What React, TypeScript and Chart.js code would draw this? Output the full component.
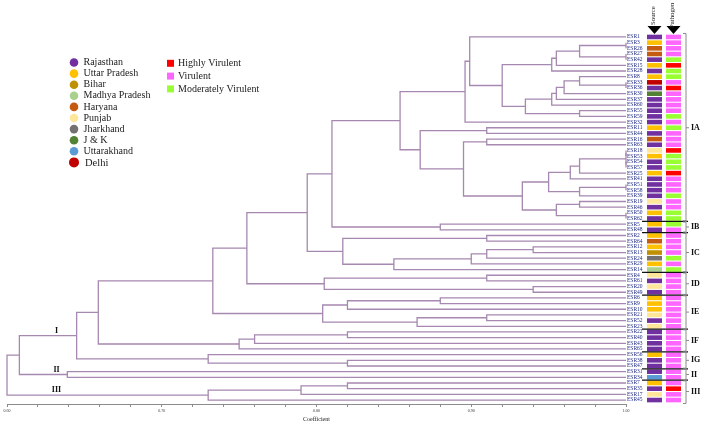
import React, { useEffect, useRef } from 'react';
import { Chart, registerables } from 'chart.js';

Chart.register(...registerables);

// ---------------- DATA ----------------
const leafLabels = [
  'ESR1', 'ESR3', 'ESR26', 'ESR27', 'ESR42', 'ESR15', 'ESR28', 'ESR8', 'ESR33', 'ESR36',
  'ESR30', 'ESR37', 'ESR60', 'ESR55', 'ESR59', 'ESR32', 'ESR11', 'ESR44', 'ESR16', 'ESR63',
  'ESR18', 'ESR53', 'ESR54', 'ESR57', 'ESR25', 'ESR41', 'ESR51', 'ESR58', 'ESR39', 'ESR19',
  'ESR46', 'ESR50', 'ESR62', 'ESR5', 'ESR48', 'ESR2', 'ESR64', 'ESR12', 'ESR13', 'ESR24',
  'ESR29', 'ESR14', 'ESR4', 'ESR61', 'ESR20', 'ESR49', 'ESR6', 'ESR9', 'ESR10', 'ESR21',
  'ESR52', 'ESR23', 'ESR22', 'ESR40', 'ESR43', 'ESR65', 'ESR56', 'ESR38', 'ESR47', 'ESR31',
  'ESR34', 'ESR7', 'ESR35', 'ESR17', 'ESR45',
];

// source state code for each leaf (same order as leafLabels)
const leafSource = [
  'R', 'UP', 'H', 'H', 'R', 'UP', 'R', 'UP', 'D', 'R',
  'JK', 'R', 'R', 'R', 'R', 'R', 'UP', 'R', 'H', 'R',
  'P', 'UP', 'R', 'R', 'UP', 'R', 'R', 'R', 'R', 'P',
  'R', 'UP', 'R', 'UP', 'R', 'UP', 'H', 'UP', 'B', 'J',
  'UP', 'MP', 'P', 'R', 'P', 'R', 'UP', 'UP', 'UP', 'P',
  'R', 'P', 'R', 'R', 'R', 'R', 'UP', 'R', 'R', 'R',
  'UK', 'UP', 'R', 'P', 'R',
];

// pathogen class for each leaf: HV / V / MV
const leafPathogen = [
  'V', 'V', 'V', 'V', 'MV', 'HV', 'MV', 'MV', 'V', 'HV',
  'V', 'V', 'V', 'V', 'MV', 'V', 'MV', 'V', 'V', 'V',
  'HV', 'MV', 'MV', 'MV', 'HV', 'V', 'V', 'V', 'MV', 'V',
  'V', 'MV', 'MV', 'MV', 'V', 'V', 'V', 'V', 'V', 'MV',
  'V', 'MV', 'V', 'V', 'V', 'V', 'V', 'V', 'V', 'V',
  'V', 'V', 'V', 'V', 'V', 'V', 'V', 'V', 'V', 'V',
  'V', 'V', 'HV', 'V', 'V',
];

const sourceCodes = ['R', 'UP', 'B', 'MP', 'H', 'P', 'J', 'JK', 'UK', 'D'];
const sourceNames = ['Rajasthan', 'Uttar Pradesh', 'Bihar', 'Madhya Pradesh', 'Haryana', 'Punjab', 'Jharkhand', 'J & K', 'Uttarakhand', 'Delhi'];
const sourceColors = ['#7030A0', '#FFC000', '#BF9000', '#A9D18E', '#C55A11', '#FFE699', '#767171', '#548235', '#5B9BD5', '#C00000'];

const pathogenCodes = ['HV', 'V', 'MV'];
const pathogenNames = ['Highly Virulent', 'Virulent', 'Moderately Virulent'];
const pathogenColors = ['#FF0000', '#FF66FF', '#99FF33'];

// linkage: [left, right, similarity coefficient]; "#k" refers to merge k
const merges: [string, string, number][] = [
  ['ESR3', 'ESR26', 1.0],   // 0
  ['ESR27', 'ESR42', 1.0],  // 1
  ['#0', '#1', 0.970],      // 2
  ['#2', 'ESR15', 0.955],   // 3
  ['#3', 'ESR28', 0.952],   // 4
  ['ESR33', 'ESR36', 1.0],  // 5
  ['ESR8', '#5', 0.970],    // 6
  ['#6', 'ESR30', 0.960],   // 7
  ['#7', 'ESR37', 0.955],   // 8
  ['#8', 'ESR60', 0.952],   // 9
  ['ESR55', 'ESR59', 0.970],// 10
  ['#9', '#10', 0.935],     // 11
  ['#4', '#11', 0.920],     // 12
  ['ESR1', '#12', 0.899],   // 13
  ['#13', 'ESR32', 0.896],  // 14
  ['ESR11', 'ESR44', 0.910],// 15
  ['ESR16', 'ESR63', 0.910],// 16
  ['ESR18', 'ESR53', 1.0],  // 17
  ['ESR54', 'ESR57', 1.0],  // 18
  ['#17', '#18', 1.0],      // 19
  ['#19', 'ESR25', 0.970],  // 20
  ['#20', 'ESR41', 0.964],  // 21
  ['ESR51', 'ESR58', 1.0],  // 22
  ['#22', 'ESR39', 0.970],  // 23
  ['#21', '#23', 0.950],    // 24
  ['ESR19', 'ESR46', 0.970],// 25
  ['ESR50', 'ESR62', 1.0],  // 26
  ['#25', '#26', 0.955],    // 27
  ['#24', '#27', 0.933],    // 28
  ['#16', '#28', 0.895],    // 29
  ['#15', '#29', 0.867],    // 30
  ['#14', '#30', 0.854],    // 31
  ['ESR5', 'ESR48', 0.880], // 32
  ['#31', '#32', 0.810],    // 33
  ['ESR2', 'ESR64', 0.910], // 34
  ['ESR12', 'ESR13', 0.940],// 35
  ['#35', 'ESR24', 0.910],  // 36
  ['#36', 'ESR29', 0.900],  // 37
  ['#37', 'ESR14', 0.850],  // 38
  ['#34', '#38', 0.817],    // 39
  ['#33', '#39', 0.794],    // 40
  ['ESR4', 'ESR61', 0.910], // 41
  ['ESR20', 'ESR49', 0.940],// 42
  ['#41', '#42', 0.805],    // 43
  ['#40', '#43', 0.755],    // 44
  ['ESR6', 'ESR9', 0.880],  // 45
  ['#45', 'ESR10', 0.820],  // 46
  ['ESR21', 'ESR52', 0.910],// 47
  ['#47', 'ESR23', 0.865],  // 48
  ['#46', '#48', 0.804],    // 49
  ['#44', '#49', 0.733],    // 50
  ['ESR22', 'ESR40', 0.820],// 51
  ['#51', 'ESR43', 0.760],  // 52
  ['#52', 'ESR65', 0.750],  // 53
  ['#50', '#53', 0.659],    // 54
  ['ESR38', 'ESR47', 0.820],// 55
  ['ESR56', '#55', 0.730],  // 56
  ['#54', '#56', 0.645],    // 57
  ['ESR31', 'ESR34', 0.639],// 58
  ['#57', '#58', 0.608],    // 59
  ['ESR7', 'ESR35', 0.820], // 60
  ['#60', 'ESR17', 0.790],  // 61
  ['#61', 'ESR45', 0.730],  // 62
  ['#59', '#62', 0.600],    // 63
];

const xTickLabels = ['0.60', '0.70', '0.80', '0.90', '1.00'];

const clusterNames = ['IA', 'IB', 'IC', 'ID', 'IE', 'IF', 'IG', 'II', 'III'];
const clusterFirst = ['ESR1', 'ESR5', 'ESR2', 'ESR4', 'ESR6', 'ESR22', 'ESR56', 'ESR31', 'ESR7'];
const clusterLast = ['ESR62', 'ESR48', 'ESR14', 'ESR49', 'ESR23', 'ESR65', 'ESR47', 'ESR34', 'ESR45'];

const groupNames = ['I', 'II', 'III'];
const groupNodes = ['#57', '#58', '#62'];

// ---------------- BUILD TREE SEGMENTS ----------------
const leafIndex = new Map<string, number>(leafLabels.map((l, i) => [l, i]));
const nodeY: number[] = [];
const nodeH: number[] = [];
const segments: { x: number; y: number }[][] = [];

function posOf(ref: string) {
  if (ref.startsWith('#')) {
    const k = Number(ref.slice(1));
    return { y: nodeY[k], h: nodeH[k] };
  }
  return { y: leafIndex.get(ref) as number, h: 1.0 };
}

merges.forEach(([a, b, c], k) => {
  const pa = posOf(a);
  const pb = posOf(b);
  nodeY[k] = (pa.y + pb.y) / 2;
  nodeH[k] = c;
  segments.push([
    { x: pa.h, y: pa.y },
    { x: c, y: pa.y },
    { x: c, y: pb.y },
    { x: pb.h, y: pb.y },
  ]);
});

const LINE_COLOR = '#a688b0';
const SERIF = '"Liberation Serif", "DejaVu Serif", serif';

const decorPlugin = {
  id: 'decor',
  afterDatasetsDraw(chart: any) {
    const ctx: CanvasRenderingContext2D = chart.ctx;
    const ys = chart.scales.y;
    const xs = chart.scales.x;
    const ca = chart.chartArea;
    const R = ca.right;
    ctx.save();

    // leaf labels
    ctx.font = `5.5px ${SERIF}`;
    ctx.fillStyle = '#1f2b86';
    ctx.textAlign = 'left';
    ctx.textBaseline = 'middle';
    leafLabels.forEach((l, i) => {
      ctx.fillText(l, R + 1, ys.getPixelForValue(i));
    });

    // source & pathogen columns
    const cellH = 4.6;
    leafLabels.forEach((_, i) => {
      const y = ys.getPixelForValue(i);
      const sc = sourceColors[sourceCodes.indexOf(leafSource[i])];
      ctx.fillStyle = sc;
      ctx.fillRect(R + 21, y - cellH / 2, 15, cellH);
      const pc = pathogenColors[pathogenCodes.indexOf(leafPathogen[i])];
      ctx.fillStyle = pc;
      ctx.fillRect(R + 40, y - cellH / 2, 15, cellH);
    });

    // separators between clusters
    ctx.strokeStyle = '#111';
    ctx.lineWidth = 1.3;
    for (let k = 0; k < clusterNames.length - 1; k++) {
      const y = (ys.getPixelForValue(leafIndex.get(clusterLast[k])) + ys.getPixelForValue(leafIndex.get(clusterFirst[k + 1]))) / 2;
      ctx.beginPath();
      ctx.moveTo(R + 16, y);
      ctx.lineTo(R + 62, y);
      ctx.stroke();
    }

    // brackets and cluster names
    const bx = R + 60;
    clusterNames.forEach((name, k) => {
      const y1 = ys.getPixelForValue(leafIndex.get(clusterFirst[k])) - 3.5;
      const y2 = ys.getPixelForValue(leafIndex.get(clusterLast[k])) + 3.5;
      ctx.strokeStyle = '#8a8a8a';
      ctx.lineWidth = 1;
      ctx.beginPath();
      ctx.moveTo(bx - 3, y1);
      ctx.lineTo(bx, y1);
      ctx.lineTo(bx, y2);
      ctx.lineTo(bx - 3, y2);
      const ym = (y1 + y2) / 2;
      ctx.moveTo(bx, ym);
      ctx.lineTo(bx + 3, ym);
      ctx.stroke();
      ctx.fillStyle = '#111';
      ctx.font = `bold 8px ${SERIF}`;
      ctx.textAlign = 'left';
      ctx.textBaseline = 'middle';
      ctx.fillText(name, bx + 5, ym);
    });

    // header triangles and rotated titles
    const heads: [string, number, number][] = [['Source', R + 28.5, 25], ['Pathogen', R + 47.5, 28]];
    heads.forEach(([t, cx, bottom]) => {
      ctx.fillStyle = '#000';
      ctx.beginPath();
      ctx.moveTo(cx - 7, 26);
      ctx.lineTo(cx + 7, 26);
      ctx.lineTo(cx, 34);
      ctx.closePath();
      ctx.fill();
      ctx.save();
      ctx.translate(cx - 1, bottom);
      ctx.rotate(-Math.PI / 2);
      ctx.font = `6.8px ${SERIF}`;
      ctx.fillStyle = '#222';
      ctx.textAlign = 'left';
      ctx.textBaseline = 'middle';
      ctx.fillText(t, 0, 0);
      ctx.restore();
    });

    // group labels on the tree
    ctx.fillStyle = '#111';
    ctx.font = `bold 8px ${SERIF}`;
    ctx.textAlign = 'center';
    ctx.textBaseline = 'bottom';
    groupNames.forEach((g, k) => {
      const p = posOf(groupNodes[k]);
      ctx.fillText(g, xs.getPixelForValue(0.632), ys.getPixelForValue(p.y) - 1);
    });

    // legends
    ctx.textAlign = 'left';
    ctx.textBaseline = 'middle';
    sourceNames.forEach((n, i) => {
      const y = 62.5 + i * 11.1;
      const last = i === sourceNames.length - 1;
      ctx.fillStyle = sourceColors[i];
      ctx.beginPath();
      ctx.arc(74, y, last ? 5 : 4.3, 0, Math.PI * 2);
      ctx.fill();
      ctx.fillStyle = '#222';
      ctx.font = `${last ? 10.5 : 10}px ${SERIF}`;
      ctx.fillText(n, last ? 85 : 83.5, y + (last ? 1 : 0));
    });
    pathogenNames.forEach((n, i) => {
      const y = 63.3 + i * 12.8;
      ctx.fillStyle = pathogenColors[i];
      ctx.fillRect(167, y - 3.5, 7, 7);
      ctx.fillStyle = '#222';
      ctx.font = `10px ${SERIF}`;
      ctx.fillText(n, 178, y);
    });

    ctx.restore();
  },
};

export default function App() {
  const ref = useRef<HTMLCanvasElement>(null);

  useEffect(() => {
    if (!ref.current) return;
    const chart = new Chart(ref.current, {
      type: 'scatter',
      data: {
        datasets: segments.map((seg) => ({
          data: seg,
          showLine: true,
          borderColor: LINE_COLOR,
          backgroundColor: LINE_COLOR,
          borderWidth: 1.3,
          pointRadius: 0,
          pointHoverRadius: 0,
          tension: 0,
          fill: false,
          clip: false as any,
        })),
      },
      options: {
        responsive: false,
        devicePixelRatio: 1,
        animation: false,
        events: [],
        layout: { padding: { left: 7, right: 82, top: 33, bottom: 1 } },
        plugins: { legend: { display: false }, tooltip: { enabled: false } },
        scales: {
          x: {
            type: 'linear',
            min: 0.6,
            max: 1.0,
            position: 'bottom',
            border: { color: '#8c8c8c', width: 1 },
            grid: { drawOnChartArea: false, drawTicks: true, tickLength: 3, color: '#8c8c8c' },
            ticks: {
              stepSize: 0.02,
              maxTicksLimit: 100,
              autoSkip: false,
              maxRotation: 0,
              padding: 2,
              color: '#333',
              font: { size: 4, family: SERIF },
              callback: (v: any) => {
                const r = Math.round(Number(v) * 10);
                if (Math.abs(Number(v) * 10 - r) < 1e-6) return xTickLabels[r - 6] ?? '';
                return '';
              },
            },
            title: {
              display: true,
              text: 'Coefficient',
              color: '#222',
              font: { size: 6, family: SERIF },
              padding: { top: 0, bottom: 0 },
            },
          },
          y: {
            type: 'linear',
            min: -0.7,
            max: leafLabels.length - 1 + 0.7,
            reverse: true,
            display: false,
          },
        },
      },
      plugins: [decorPlugin],
    } as any);
    return () => chart.destroy();
  }, []);

  return (
    <div style={{ position: 'absolute', left: 0, top: 0, width: 708, height: 424, background: '#fff' }}>
      <canvas ref={ref} width={708} height={424} style={{ display: 'block' }} />
    </div>
  );
}
